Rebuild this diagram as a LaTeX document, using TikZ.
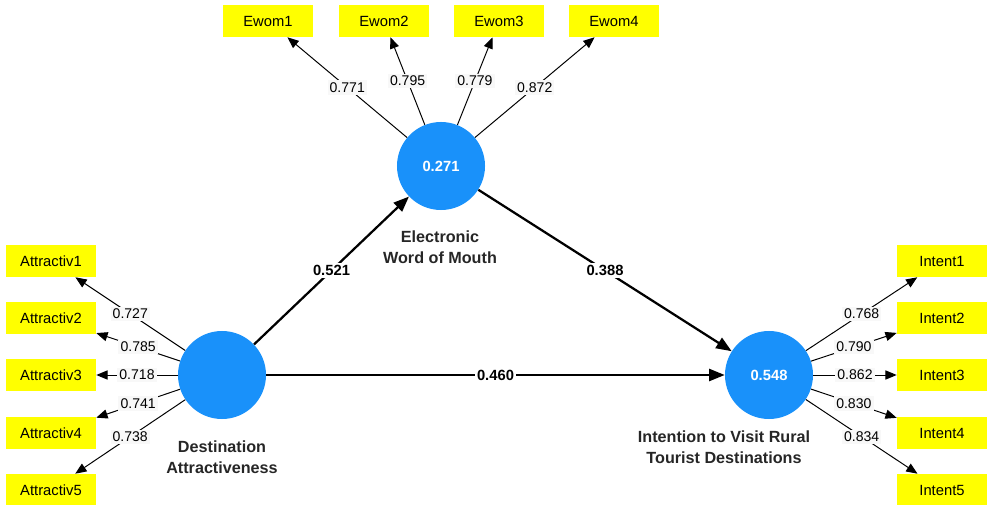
\documentclass[tikz,border=0pt]{standalone}
\usepackage{fontspec}
\setmainfont{Liberation Sans}
\usetikzlibrary{arrows.meta}

\definecolor{lvblue}{RGB}{25,145,250}
\definecolor{mvyellow}{RGB}{255,255,0}
\definecolor{lblgray}{RGB}{248,248,248}

\begin{document}
\begin{tikzpicture}[x=0.025cm,y=-0.025cm,
  latent/.style={circle,fill=lvblue,minimum size=2.2cm,inner sep=0pt,text=white,
    font=\fontsize{10.5}{12}\selectfont\bfseries},
  item/.style={fill=mvyellow,minimum width=2.25cm,minimum height=0.8cm,inner sep=0pt,
    font=\fontsize{10.5}{12}\selectfont},
  load/.style={line width=0.7pt,-{Triangle[length=8pt,width=6.5pt]}},
  struct/.style={line width=1.6pt,-{Triangle[length=11pt,width=8.5pt]}},
  lval/.style={fill=lblgray,inner sep=1.5pt,font=\fontsize{10}{12}\selectfont},
  pval/.style={fill=white,inner sep=1.5pt,font=\fontsize{10.5}{12}\selectfont\bfseries},
  lname/.style={align=center,text=black!85,font=\fontsize{11.5}{15}\selectfont\bfseries}]
  \useasboundingbox (0,0) rectangle (988,505);
  % latent variables
  \node[latent] (DA) at (222,375) {};
  \node[latent] (EW) at (441,166) {0.271};
  \node[latent] (IV) at (769,375) {0.548};
  \node[lname] (DAname) at (222,457) {Destination\\Attractiveness};
  \node[lname] (EWname) at (440,247) {Electronic\\Word of Mouth};
  \node[lname] (IVname) at (724,447) {Intention to Visit Rural\\Tourist Destinations};
  % indicators
  \foreach \i/\x/\v in {1/268/0.771,2/384/0.795,3/499/0.779,4/614/0.872}{
    \node[item] (EW\i) at (\x,21) {Ewom\i};
    \draw[load] (EW) -- node[lval] {\v} (EW\i);
  }
  \foreach \i/\y/\v in {1/261/0.727,2/318/0.785,3/375/0.718,4/433/0.741,5/490/0.738}{
    \node[item] (DA\i) at (51,\y) {Attractiv\i};
    \draw[load] (DA) -- node[lval] {\v} (DA\i);
  }
  \foreach \i/\y/\v in {1/261/0.768,2/318/0.790,3/375/0.862,4/433/0.830,5/490/0.834}{
    \node[item] (IV\i) at (942,\y) {Intent\i};
    \draw[load] (IV) -- node[lval] {\v} (IV\i);
  }
  % structural paths
  \draw[struct] (DA) -- node[pval] {0.521} (EW);
  \draw[struct] (EW) -- node[pval] {0.388} (IV);
  \draw[struct] (DA) -- node[pval] {0.460} (IV);
\end{tikzpicture}
\end{document}
